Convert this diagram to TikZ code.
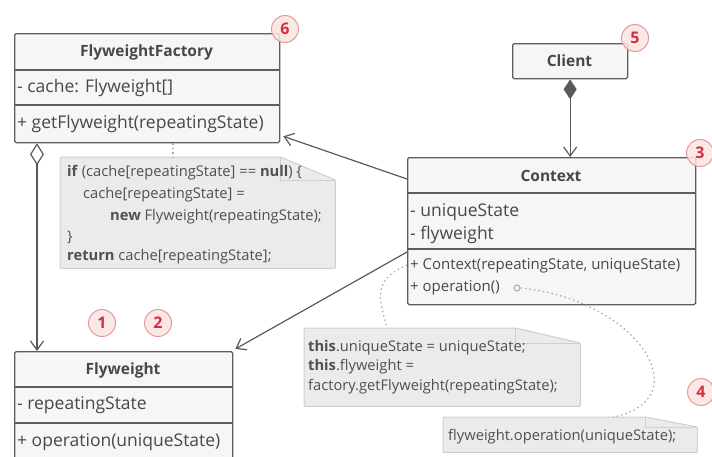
\documentclass[tikz,border=0pt]{standalone}
\usepackage{fontspec}
\setmainfont{Open Sans}
\usetikzlibrary{arrows.meta}

\definecolor{boxfill}{HTML}{F6F6F6}
\definecolor{boxline}{HTML}{5E5E5E}
\definecolor{txt}{HTML}{484848}
\definecolor{codetxt}{HTML}{505050}
\definecolor{notefill}{HTML}{EBEBEB}
\definecolor{noteline}{HTML}{CFCFCF}
\definecolor{badgefill}{HTML}{FCE3E3}
\definecolor{badgeline}{HTML}{E59A9A}
\definecolor{badgetxt}{HTML}{D23040}
\definecolor{wire}{HTML}{5A5A5A}
\definecolor{dots}{HTML}{A8A8A8}

\tikzset{
  classbox/.style={draw=boxline, fill=boxfill, line width=1.3pt, rounded corners=1.5pt,
    anchor=north west, inner sep=0pt},
  divider/.style={draw=boxline, line width=1.3pt},
  hdr/.style={font=\fontsize{15.5}{18}\selectfont\bfseries, text=txt, inner sep=0pt},
  member/.style={font=\fontsize{17.5}{20}\selectfont, text=txt, anchor=west, inner sep=0pt},
  smallmember/.style={member, font=\fontsize{15}{18}\selectfont},
  codeline/.style={font=\fontsize{14.7}{17}\selectfont, text=codetxt, anchor=west, inner sep=0pt},
  notearea/.style={anchor=north west, inner sep=0pt},
  notebody/.style={fill=notefill, draw=noteline, line width=1pt, rounded corners=1pt},
  notefold/.style={draw=noteline, line width=1pt},
  badge/.style={circle, draw=badgeline, fill=badgefill, fill opacity=0.85, text opacity=1,
    line width=1pt, minimum size=27pt, inner sep=0pt, text=badgetxt,
    font=\fontsize{16}{18}\selectfont\bfseries},
  wireline/.style={draw=wire, line width=1.2pt},
  dotline/.style={draw=dots, line width=1.2pt, dash pattern=on 1.5pt off 3pt},
  myvee/.tip={Straight Barb[length=9pt, width=13pt]},
}

\begin{document}
\begin{tikzpicture}[x=1pt, y=-1pt]
\useasboundingbox (0,0) rectangle (712,456);
\clip (0,0) rectangle (712,456);

% ---------- notes ----------
\node[notearea, minimum width=275pt, minimum height=111pt] (n1) at (60,157) {};
\path[notebody] (n1.north west) -- ([xshift=-55pt]n1.north east) -- ([yshift=-23pt]n1.north east)
  -- (n1.south east) -- (n1.south west) -- cycle;
\draw[notefold] ([xshift=-55pt]n1.north east) |- ([yshift=-23pt]n1.north east);
\node[codeline] (c1) at (67,173) {\textbf{if} (cache[repeatingState] == \textbf{null}) \{};
\node[codeline] (c2) at (83,195) {cache[repeatingState] =};
\node[codeline] (c3) at (110,217) {\textbf{new} Flyweight(repeatingState);};
\node[codeline] (c4) at (67,237) {\}};
\node[codeline] (c5) at (67,257) {\textbf{return} cache[repeatingState];};

\node[notearea, minimum width=276pt, minimum height=78pt] (n2) at (304,328) {};
\path[notebody] (n2.north west) -- ([xshift=-65pt]n2.north east) -- ([yshift=-15pt]n2.north east)
  -- (n2.south east) -- (n2.south west) -- cycle;
\draw[notefold] ([xshift=-65pt]n2.north east) |- ([yshift=-15pt]n2.north east);
\node[codeline] (d1) at (308,348) {\textbf{this}.uniqueState = uniqueState;};
\node[codeline] (d2) at (308,367) {\textbf{this}.flyweight =};
\node[codeline] (d3) at (308,387) {factory.getFlyweight(repeatingState);};

\node[notearea, minimum width=254pt, minimum height=35pt] (n3) at (443,417) {};
\path[notebody] (n3.north west) -- ([xshift=-52pt]n3.north east) -- ([yshift=-10pt]n3.north east)
  -- (n3.south east) -- (n3.south west) -- cycle;
\draw[notefold] ([xshift=-52pt]n3.north east) |- ([yshift=-10pt]n3.north east);
\node[codeline] (e1) at (448,437) {flyweight.operation(uniqueState);};

% ---------- FlyweightFactory ----------
\node[classbox, minimum width=265pt, minimum height=109pt] (ff) at (14,33) {};
\draw[divider] (14,70) -- (279,70);
\draw[divider] (14,105) -- (279,105);
\node[hdr] (ffname) at (146.5,52) {FlyweightFactory};
\node[member] (ffcache) at (17,88) {- cache: Flyweight[]};
\node[member] (ffget) at (17,124) {+ getFlyweight(repeatingState)};

% ---------- Client ----------
\node[classbox, minimum width=115pt, minimum height=35pt] (client) at (512,43) {};
\node[hdr] (clientname) at (569.5,61) {Client};

% ---------- Context ----------
\node[classbox, minimum width=288pt, minimum height=147pt] (ctx) at (407,157) {};
\draw[divider] (407,193) -- (695,193);
\draw[divider] (407,249) -- (695,249);
\node[hdr] (ctxname) at (551,176) {Context};
\node[member] (ctxu) at (410,212) {- uniqueState};
\node[member] (ctxf) at (410,235) {- flyweight};
\node[smallmember] (ctxc) at (410,266) {+ Context(repeatingState, uniqueState)};
\node[smallmember] (ctxo) at (410,288) {+ operation()};
\node[circle, draw=dots, line width=0.9pt, minimum size=6pt, inner sep=0pt] (opc) at (517,288) {};

% ---------- Flyweight ----------
\node[classbox, minimum width=218pt, minimum height=115pt] (fw) at (14,351) {};
\draw[divider] (14,387) -- (232,387);
\draw[divider] (14,423) -- (232,423);
\node[hdr] (fwname) at (123,370) {Flyweight};
\node[member] (fwrep) at (17,405) {- repeatingState};
\node[member] (fwop) at (17,442) {+ operation(uniqueState)};

% ---------- connectors ----------
\draw[wireline, {Diamond[length=20pt, width=13pt]}-myvee]
  (client.south) -- (client.south |- ctx.north);
\draw[wireline, {Diamond[open, length=22pt, width=14pt]}-myvee]
  ([xshift=23pt]ff.south west) -- ([xshift=23pt]fw.north west);
\draw[wireline, -myvee] ([yshift=-22pt]ctx.north west) -- ([xshift=3pt, yshift=7pt]ff.south east);
\draw[wireline, -myvee] ([yshift=-95pt]ctx.north west) -- ([xshift=2pt, yshift=2pt]fw.north east);

\coordinate (ffdot) at ([xshift=159pt]ff.south west);
\draw[dotline] (ffdot) -- (ffdot |- n1.north);
\draw[dotline] ([yshift=-108pt]ctx.north west) .. controls +(-35,15) and +(-8,-30) .. ([xshift=83pt]n2.north west);
\draw[dotline] (opc.east) .. controls (640,300) and (700,400) .. ([xshift=170pt]n3.north west);

% ---------- step badges ----------
\node[badge] (b1) at (102,323) {1};
\node[badge] (b2) at (158,323) {2};
\node[badge] (b3) at (700,153) {3};
\node[badge] (b4) at (701,392) {4};
\node[badge] (b5) at (635,38) {5};
\node[badge] (b6) at (285,29) {6};
\end{tikzpicture}
\end{document}
